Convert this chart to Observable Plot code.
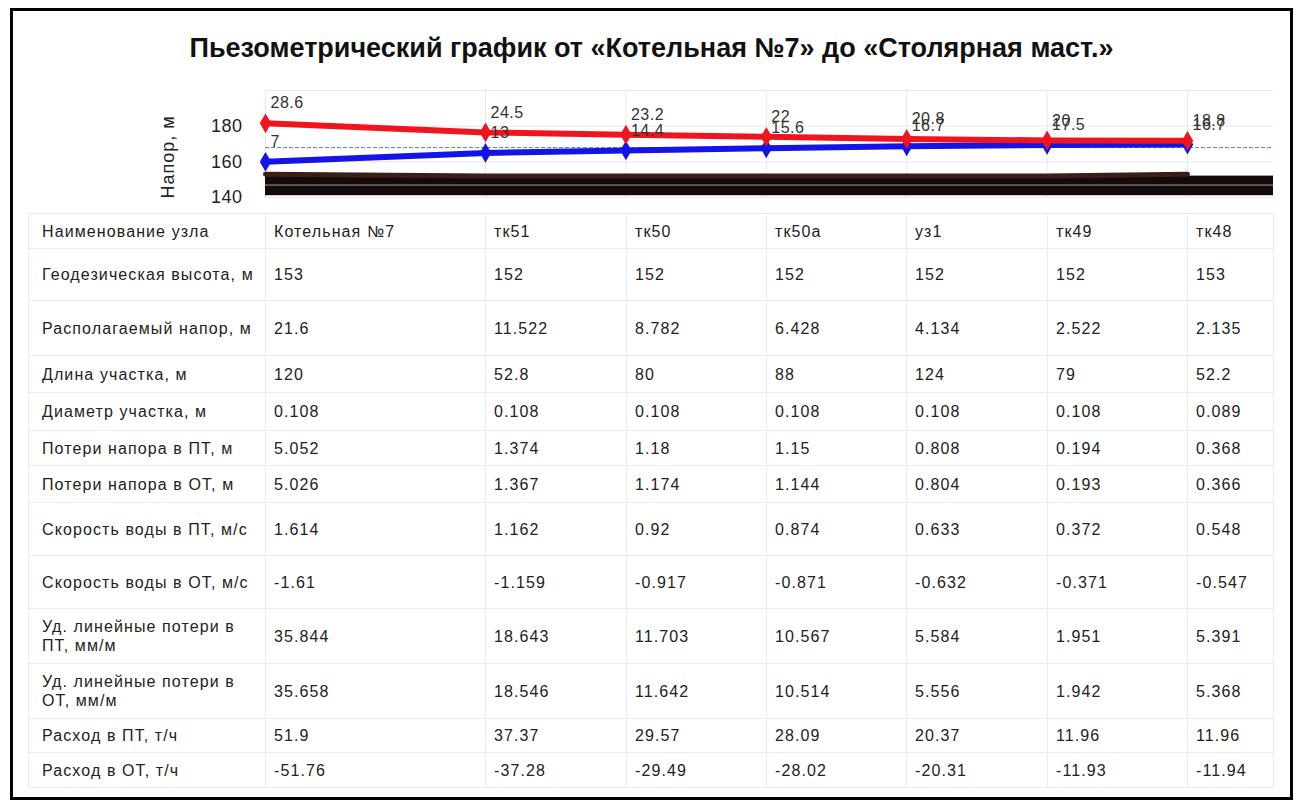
<!DOCTYPE html>
<html>
<head>
<meta charset="utf-8">
<script src="https://cdn.jsdelivr.net/npm/d3@7"></script>
<script src="https://cdn.jsdelivr.net/npm/@observablehq/plot@0.6"></script>
<style>
  html, body { margin:0; padding:0; background:#fff; }
  body { width:1298px; height:807px; position:relative; overflow:hidden; font-family:"Liberation Sans", Arial, sans-serif; }
  #frame { position:absolute; left:10px; top:8px; width:1283px; height:792px; border:3px solid #000; box-sizing:border-box; }
  #title { position:absolute; left:10px; width:1283px; top:33px; text-align:center; font-weight:bold; font-size:27px; color:#111; }
  #chart { position:absolute; left:140px; top:85px; }
  #ylabel { position:absolute; left:168px; top:157px; width:0; height:0; }
  #ylabel span { position:absolute; transform:translate(-50%,-50%) rotate(-90deg); white-space:nowrap; font-size:18px; letter-spacing:1px; color:#222; }
  #tbl { position:absolute; left:28px; top:213px; border-collapse:collapse; table-layout:fixed; width:1245px; font-size:16px; letter-spacing:1.1px; color:#222; }
  #tbl td { border:1.5px solid #ebebeb; padding:0 4px 0 8px; vertical-align:middle; white-space:nowrap; overflow:hidden; line-height:19px; }
  #tbl td.lab { padding-left:13px; padding-right:6px; white-space:normal; }
</style>
</head>
<body>
<div id="frame"></div>
<div id="title">Пьезометрический график от «Котельная №7» до «Столярная маст.»</div>
<div id="chart"></div>
<div id="ylabel"><span>Напор, м</span></div>
<table id="tbl"></table>
<script>
// ---- data ----
const nodes = ["Котельная №7", "тк51", "тк50", "тк50а", "уз1", "тк49", "тк48"];
const geodesic = [153, 152, 152, 152, 152, 152, 153];
const supplyHead = [28.6, 24.5, 23.2, 22, 20.8, 20, 18.8];
const returnHead = [7, 13, 14.4, 15.6, 16.7, 17.5, 16.7];
const staticHead = [168];
const bandTop = [152];
const bandBottom = [141];
const bandSeam = [147];
const yTicks = [140, 160, 180];
const yGrid = [140, 160, 180, 200];

const rowLabels = [
  "Наименование узла",
  "Геодезическая высота, м",
  "Располагаемый напор, м",
  "Длина участка, м",
  "Диаметр участка, м",
  "Потери напора в ПТ, м",
  "Потери напора в ОТ, м",
  "Скорость воды в ПТ, м/с",
  "Скорость воды в ОТ, м/с",
  "Уд. линейные потери в ПТ, мм/м",
  "Уд. линейные потери в ОТ, мм/м",
  "Расход в ПТ, т/ч",
  "Расход в ОТ, т/ч"
];
const availHead = ["21.6", "11.522", "8.782", "6.428", "4.134", "2.522", "2.135"];
const sectionLength = ["120", "52.8", "80", "88", "124", "79", "52.2"];
const sectionDiameter = ["0.108", "0.108", "0.108", "0.108", "0.108", "0.108", "0.089"];
const lossSupply = ["5.052", "1.374", "1.18", "1.15", "0.808", "0.194", "0.368"];
const lossReturn = ["5.026", "1.367", "1.174", "1.144", "0.804", "0.193", "0.366"];
const speedSupply = ["1.614", "1.162", "0.92", "0.874", "0.633", "0.372", "0.548"];
const speedReturn = ["-1.61", "-1.159", "-0.917", "-0.871", "-0.632", "-0.371", "-0.547"];
const specLossSupply = ["35.844", "18.643", "11.703", "10.567", "5.584", "1.951", "5.391"];
const specLossReturn = ["35.658", "18.546", "11.642", "10.514", "5.556", "1.942", "5.368"];
const flowSupply = ["51.9", "37.37", "29.57", "28.09", "20.37", "11.96", "11.96"];
const flowReturn = ["-51.76", "-37.28", "-29.49", "-28.02", "-20.31", "-11.93", "-11.94"];

// ---- layout ----
const colWidths = [237, 220, 141, 140, 140, 141, 140, 86];
const rowHeights = [35, 52, 55, 37, 38, 35, 37, 53, 53, 55, 55, 34, 35];

const rows = nodes.map((n, i) => ({
  i, name: n, ground: geodesic[i],
  sup: geodesic[i] + supplyHead[i], ret: geodesic[i] + returnHead[i],
  supLab: String(supplyHead[i]), retLab: String(returnHead[i])
}));
const idx = rows.map(d => d.i);

const red = "#f0141e", blue = "#1414e6";

const chart = Plot.plot({
  width: 1133, height: 120,
  marginLeft: 125, marginRight: 0, marginTop: 5, marginBottom: 8,
  x: {type: "linear", domain: [0, 1, 6], range: [125, 345, 1047], axis: null},
  y: {domain: [140, 200], axis: null},
  style: {fontFamily: "'Liberation Sans', Arial, sans-serif", color: "#222", overflow: "visible", background: "transparent"},
  marks: [
    Plot.ruleY(yGrid, {stroke: "#e8e8e8"}),
    Plot.ruleX(idx, {stroke: "#e8e8e8"}),
    Plot.rect(bandTop, {y1: bandBottom[0], y2: d => d, fill: "#130b09"}),
    Plot.ruleY(bandSeam, {stroke: "#a39a98", strokeWidth: 1}),
    Plot.line(rows, {x: "i", y: "ground", stroke: "#3d1d17", strokeWidth: 5}),
    Plot.ruleY(staticHead, {stroke: "#5b82c6", strokeWidth: 1, strokeDasharray: "4,2"}),
    Plot.line(rows, {x: "i", y: "ret", stroke: blue, strokeWidth: 6}),
    Plot.dot(rows, {x: "i", y: "ret", symbol: "diamond", r: 6, fill: blue}),
    Plot.line(rows, {x: "i", y: "sup", stroke: red, strokeWidth: 6}),
    Plot.dot(rows, {x: "i", y: "sup", symbol: "diamond", r: 6, fill: red}),
    Plot.text(rows, {x: "i", y: "sup", text: "supLab", dx: 5, dy: -20, textAnchor: "start", fontSize: 16, fill: "#333"}),
    Plot.text(rows, {x: "i", y: "ret", text: "retLab", dx: 5, dy: -20, textAnchor: "start", fontSize: 16, fill: "#333"}),
    Plot.axisY(yTicks, {tickSize: 0, tickPadding: 23, fontSize: 18, label: null, fill: "#222"})
  ]
});
chart.querySelectorAll("text").forEach(t => t.style.letterSpacing = "0.5px");
document.getElementById("chart").appendChild(chart);

// ---- table ----
const tableData = [
  nodes,
  geodesic.map(String),
  availHead, sectionLength, sectionDiameter, lossSupply, lossReturn,
  speedSupply, speedReturn, specLossSupply, specLossReturn, flowSupply, flowReturn
];
const tbl = d3.select("#tbl");
const cg = tbl.append("colgroup");
colWidths.forEach(w => cg.append("col").style("width", w + "px"));
rowLabels.forEach((lab, r) => {
  const tr = tbl.append("tr").style("height", rowHeights[r] + "px");
  tr.append("td").attr("class", "lab").text(lab);
  tableData[r].forEach(v => tr.append("td").text(v));
  tr.append("td").text("");
});
</script>
</body>
</html>
